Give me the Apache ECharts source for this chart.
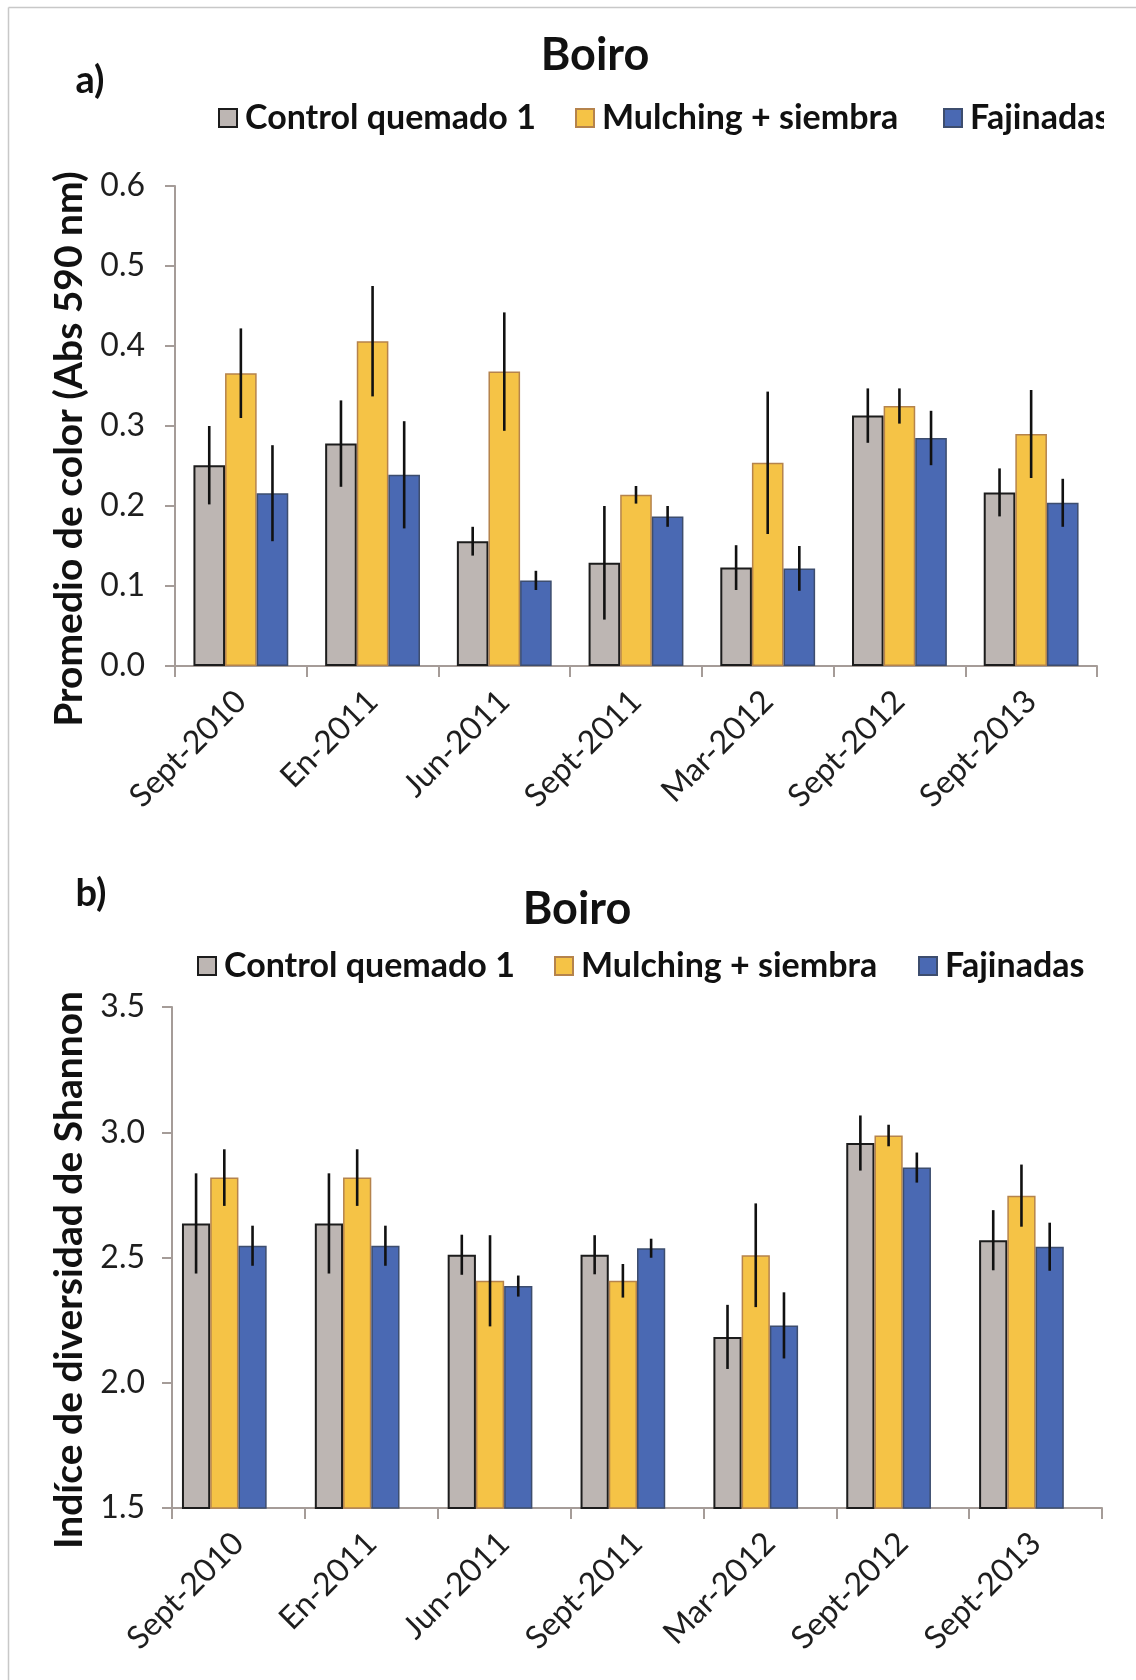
<!DOCTYPE html>
<html>
<head>
<meta charset="utf-8">
<script src="https://cdn.jsdelivr.net/npm/echarts@6/dist/echarts.min.js"></script>
<style>
  html, body { margin: 0; padding: 0; background: #ffffff; }
  #chart { width: 1136px; height: 1680px; }
</style>
</head>
<body>
<div id="chart"></div>
<script>
// Sampling dates and treatments
const categories = ['Sept-2010', 'En-2011', 'Jun-2011', 'Sept-2011', 'Mar-2012', 'Sept-2012', 'Sept-2013'];
const seriesNames = ['Control quemado 1', 'Mulching + siembra', 'Fajinadas'];

// a) Promedio de color (Abs 590 nm): means and error (±)
const colorControl   = [0.251, 0.278, 0.156, 0.129, 0.123, 0.313, 0.217];
const colorControlE  = [0.049, 0.054, 0.018, 0.071, 0.028, 0.034, 0.030];
const colorMulching  = [0.366, 0.406, 0.368, 0.214, 0.254, 0.325, 0.290];
const colorMulchingE = [0.056, 0.069, 0.074, 0.011, 0.089, 0.022, 0.055];
const colorFajinas   = [0.216, 0.239, 0.107, 0.187, 0.122, 0.285, 0.204];
const colorFajinasE  = [0.060, 0.067, 0.012, 0.013, 0.028, 0.034, 0.030];

// b) Indíce de diversidad de Shannon: means and error (±)
const shanControl   = [2.636, 2.636, 2.511, 2.511, 2.183, 2.957, 2.569];
const shanControlE  = [0.200, 0.200, 0.080, 0.078, 0.128, 0.110, 0.120];
const shanMulching  = [2.819, 2.819, 2.407, 2.407, 2.509, 2.987, 2.747];
const shanMulchingE = [0.113, 0.113, 0.182, 0.067, 0.207, 0.043, 0.124];
const shanFajinas   = [2.547, 2.547, 2.386, 2.537, 2.229, 2.859, 2.543];
const shanFajinasE  = [0.080, 0.080, 0.042, 0.038, 0.132, 0.060, 0.096];

// Axis tick settings
const colorTicks = { min: 0, max: 0.6, interval: 0.1 };
const shanTicks  = { min: 1.5, max: 3.5, interval: 0.5 };

const FONT = 'Lato, "Open Sans", "Noto Sans", sans-serif';
const AXIS_COLOR = '#a59c98';

const barStyles = [
  { color: '#bdb6b3', borderColor: '#1c1c1c', borderWidth: 2 },
  { color: '#f5c346', borderColor: '#b5834c', borderWidth: 1.5 },
  { color: '#4a69b3', borderColor: '#3d4d6e', borderWidth: 1.5 }
];

// Error bar drawn at the centre of the k-th bar of a group of n bars
function errorBar(k, n, gap) {
  return function (params, api) {
    const x = api.value(0);
    const lo = api.coord([x, api.value(1)]);
    const hi = api.coord([x, api.value(2)]);
    const band = api.size([1, 0])[0];
    const bw = band * (1 - gap) / n;
    const dx = (k - (n - 1) / 2) * bw;
    return {
      type: 'line',
      shape: { x1: lo[0] + dx, y1: lo[1], x2: hi[0] + dx, y2: hi[1] },
      style: { stroke: '#111111', lineWidth: 2.6 }
    };
  };
}

function errData(means, errs) {
  return means.map((m, i) => [i, m - errs[i], m + errs[i]]);
}

function xAxisFor(grid) {
  return {
    type: 'category', gridIndex: grid, data: categories,
    axisLine: { lineStyle: { color: AXIS_COLOR, width: 2 } },
    axisTick: { show: true, length: 11, lineStyle: { color: AXIS_COLOR, width: 2 } },
    axisLabel: { rotate: 45, margin: 30, fontSize: 32, color: '#1e1e1e', fontFamily: FONT }
  };
}

function yAxisFor(grid, ticks, margin) {
  return {
    type: 'value', gridIndex: grid, min: ticks.min, max: ticks.max, interval: ticks.interval,
    axisLine: { show: true, lineStyle: { color: AXIS_COLOR, width: 2 } },
    axisTick: { show: true, length: 10, lineStyle: { color: AXIS_COLOR, width: 2 } },
    splitLine: { show: false },
    axisLabel: { margin: margin, fontSize: 32, color: '#1e1e1e', fontFamily: FONT,
                 formatter: v => v.toFixed(1) }
  };
}

const panelA = [colorControl, colorMulching, colorFajinas];
const panelAE = [colorControlE, colorMulchingE, colorFajinasE];
const panelB = [shanControl, shanMulching, shanFajinas];
const panelBE = [shanControlE, shanMulchingE, shanFajinasE];

const GAP_A = 0.28, GAP_B = 0.15;
const series = [];

panelA.forEach((vals, k) => {
  series.push({
    type: 'bar', name: seriesNames[k], xAxisIndex: 0, yAxisIndex: 0,
    data: vals, barGap: '0%', barCategoryGap: (GAP_A * 100) + '%',
    itemStyle: barStyles[k], z: 2
  });
});
panelA.forEach((vals, k) => {
  series.push({
    type: 'custom', xAxisIndex: 0, yAxisIndex: 0, z: 5,
    renderItem: errorBar(k, 3, GAP_A), encode: { x: 0, y: [1, 2] },
    data: errData(vals, panelAE[k])
  });
});

panelB.forEach((vals, k) => {
  series.push({
    type: 'bar', name: seriesNames[k], xAxisIndex: 1, yAxisIndex: 1,
    data: vals, barGap: '0%', barCategoryGap: (GAP_B * 100) + '%',
    itemStyle: barStyles[k], z: 2
  });
});
// empty fourth slot in each group of panel b
series.push({
  type: 'bar', name: 'vacío', xAxisIndex: 1, yAxisIndex: 1,
  data: categories.map(() => null), barGap: '0%', barCategoryGap: (GAP_B * 100) + '%'
});
panelB.forEach((vals, k) => {
  series.push({
    type: 'custom', xAxisIndex: 1, yAxisIndex: 1, z: 5,
    renderItem: errorBar(k, 4, GAP_B), encode: { x: 0, y: [1, 2] },
    data: errData(vals, panelBE[k])
  });
});

function legendItem(name, left, centerY) {
  return {
    data: [name], left: left, top: centerY - 20, padding: 0,
    icon: 'rect', itemWidth: 18, itemHeight: 18, selectedMode: false,
    textStyle: { fontSize: 34, fontWeight: 'bold', color: '#111111', fontFamily: FONT,
                 padding: [0, 0, 0, 3] }
  };
}

function label(text, x, y, size, rot) {
  return {
    type: 'text', x: x, y: y, rotation: rot || 0, z: 50,
    style: { text: text, fill: '#111111', fontSize: size, fontWeight: 'bold', fontFamily: FONT,
             align: 'center', verticalAlign: 'middle',
             textAlign: 'center', textVerticalAlign: 'middle' }
  };
}

const option = {
  animation: false,
  backgroundColor: '#ffffff',
  grid: [
    { left: 175, top: 186, width: 922, height: 480 },
    { left: 172, top: 1007, width: 930, height: 501 }
  ],
  xAxis: [xAxisFor(0), xAxisFor(1)],
  yAxis: [yAxisFor(0, colorTicks, 30), yAxisFor(1, shanTicks, 27)],
  legend: [
    legendItem(seriesNames[0], 218, 121),
    legendItem(seriesNames[1], 575, 121),
    legendItem(seriesNames[2], 943, 121),
    legendItem(seriesNames[0], 197, 969),
    legendItem(seriesNames[1], 554, 969),
    legendItem(seriesNames[2], 918, 969)
  ],
  graphic: [
    // outer frame (left and top edges)
    { type: 'line', shape: { x1: 8.5, y1: 7.5, x2: 8.5, y2: 1680 }, style: { stroke: '#c8c8c8', lineWidth: 1.5 }, z: 1 },
    { type: 'line', shape: { x1: 8.5, y1: 7.5, x2: 1136, y2: 7.5 }, style: { stroke: '#c8c8c8', lineWidth: 1.5 }, z: 1 },
    label('Boiro', 595, 55, 45),
    label('a)', 90, 81, 38),
    label('Boiro', 577, 909, 45),
    label('b)', 91, 894, 38),
    label('Promedio de color (Abs 590 nm)', 69, 449, 39, Math.PI / 2),
    label('Indíce de diversidad de Shannon', 69, 1270, 39, Math.PI / 2),
    // right margin of the upper panel cuts the last legend entry
    { type: 'rect', shape: { x: 1104, y: 92, width: 32, height: 56 }, style: { fill: '#ffffff' }, z: 100 }
  ],
  series: series
};

const chart = echarts.init(document.getElementById('chart'), null, { renderer: 'canvas' });
chart.setOption(option);
</script>
</body>
</html>
